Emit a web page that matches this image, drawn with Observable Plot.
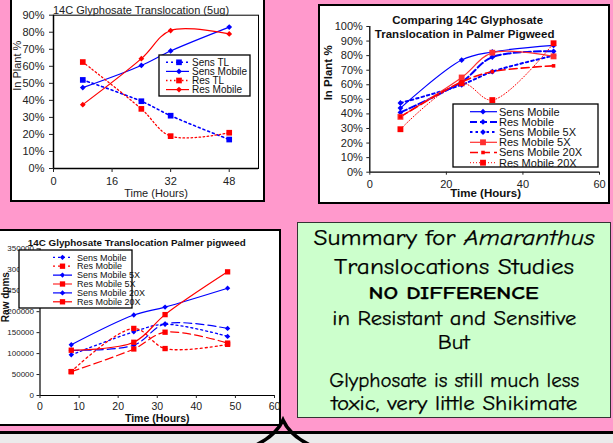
<!DOCTYPE html>
<html><head><meta charset="utf-8">
<script src="https://cdn.jsdelivr.net/npm/d3@7"></script>
<script src="https://cdn.jsdelivr.net/npm/@observablehq/plot@0.6"></script>
<style>
html,body{margin:0;padding:0;}
body{width:613px;height:443px;overflow:hidden;background:#FF99CC;position:relative;font-family:"Liberation Sans",Arial,sans-serif;}
.panel{position:absolute;background:#fff;border:2px solid #000;box-sizing:border-box;}
.chart{position:absolute;}
#summary{position:absolute;left:297px;top:222px;width:314px;height:196px;background:#CCFFCC;border:1.5px solid #333;box-sizing:border-box;}
.sl{position:absolute;left:0;width:100%;text-align:center;line-height:1;font-family:"Comic Sans MS","Comic Neue","DejaVu Sans",sans-serif;color:#000;white-space:nowrap;-webkit-text-stroke:0.25px #000;}
.sl span{display:inline-block;transform-origin:center center;}
#bottom{position:absolute;left:0;top:431px;width:613px;height:12px;background:#EBEBEB;border-top:3px solid #000;box-sizing:border-box;}
#brace{position:absolute;left:0;top:0;}
</style>
</head><body>
<div class="panel" style="left:10px;top:-2px;width:255px;height:204px;"></div>
<div class="panel" style="left:318px;top:4px;width:292px;height:200px;"></div>
<div class="panel" style="left:-2px;top:229px;width:283px;height:197px;"></div>
<div id="c1" class="chart" style="left:12px;top:0px;"></div>
<div id="c2" class="chart" style="left:320px;top:6px;"></div>
<div id="c3" class="chart" style="left:0px;top:231px;"></div>
<div id="summary">
  <div class="sl" style="top:16px;font-size:21.5px;" data-w="281"><span>Summary for <i>Amaranthus</i></span></div>
  <div class="sl" style="top:45px;font-size:21.5px;" data-w="240"><span>Translocations Studies</span></div>
  <div class="sl" style="top:70px;font-size:19px;font-weight:bold;" data-w="170"><span>NO DIFFERENCE</span></div>
  <div class="sl" style="top:96px;font-size:19.5px;" data-w="244"><span>in Resistant and Sensitive</span></div>
  <div class="sl" style="top:120px;font-size:19.5px;" data-w="32"><span>But</span></div>
  <div class="sl" style="top:158px;font-size:20px;" data-w="250"><span>Glyphosate is still much less</span></div>
  <div class="sl" style="top:181px;font-size:20px;" data-w="246"><span>toxic, very little Shikimate</span></div>
</div>
<div id="bottom"></div>
<svg id="brace" width="613" height="443"><path d="M 254 446 Q 276 436 283 420 Q 290 436 312 446" fill="none" stroke="#000" stroke-width="3.5"/></svg>
<script>
// ---------- DATA ----------
const hours = [8, 24, 32, 48];

// Chart 1: 14C Glyphosate Translocation (5ug), In Plant %
const c1Names = ["Sens TL", "Sens Mobile", "Res TL", "Res Mobile"];
const c1SensTL = [52, 39.5, 31, 17];
const c1SensMobile = [47.5, 60.5, 69, 83];
const c1ResTL = [62.5, 35, 19, 21];
const c1ResMobile = [37.5, 64.5, 81, 79];
const c1XTicks = [0, 16, 32, 48];
const c1YTicks = [0, 10, 20, 30, 40, 50, 60, 70, 80, 90];

// Chart 2: Comparing 14C Glyphosate Translocation in Palmer Pigweed, In Plant %
const c2Names = ["Sens Mobile", "Res Mobile", "Sens Mobile 5X", "Res Mobile 5X", "Sens Mobile 20X", "Res Mobile 20X"];
const c2SensMobile = [44, 77, 82.5, 87];
const c2ResMobile = [41, 62, 79, 83];
const c2SensMobile5X = [47.5, 60, 69, 80];
const c2ResMobile5X = [38, 65, 82, 79.5];
const c2SensMobile20X = [38, 62, 69, 73];
const c2ResMobile20X = [29.5, 61, 49.5, 88.5];
const c2XTicks = [0, 20, 40, 60];
const c2YTicks = [0, 10, 20, 30, 40, 50, 60, 70, 80, 90, 100];

// Chart 3: 14C Glyphosate Translocation Palmer pigweed, Raw dpms
const c3Names = ["Sens Mobile", "Res Mobile", "Sens Mobile 5X", "Res Mobile 5X", "Sens Mobile 20X", "Res Mobile 20X"];
const c3SensMobile = [97000, 152000, 170000, 141000];
const c3ResMobile = [57000, 160000, 112000, 122000];
const c3SensMobile5X = [108000, 120000, 171000, 160000];
const c3ResMobile5X = [57000, 111000, 151000, 125000];
const c3SensMobile20X = [121000, 192000, 211000, 256000];
const c3ResMobile20X = [108000, 127000, 193000, 295000];
const c3XTicks = [0, 10, 20, 30, 40, 50, 60];
const c3YTicks = [0, 50000, 100000, 150000, 200000, 250000, 300000, 350000];

// ---------- STYLES ----------
const BLUE = "#0000FF", RED = "#FF0000";
const FONT = "Liberation Sans, Arial, sans-serif";
const c1Styles = [
  {color: BLUE, width: 1.6, dash: "2,3", symbol: "square", r: 3.2},
  {color: BLUE, width: 1.2, dash: null, symbol: "diamond2", r: 2.6},
  {color: RED, width: 1.3, dash: "1.5,2.5", symbol: "square", r: 3.2},
  {color: RED, width: 1.2, dash: null, symbol: "diamond2", r: 2.6}
];
const c2Styles = [
  {color: BLUE, width: 1.2, dash: null, symbol: "diamond2", r: 2.6},
  {color: BLUE, width: 2, dash: "7,3", symbol: "diamond2", r: 2.6},
  {color: BLUE, width: 2, dash: "2.5,3", symbol: "diamond2", r: 2.6},
  {color: "#FF3030", width: 1.2, dash: null, symbol: "square", r: 3.3},
  {color: RED, width: 1.6, dash: "8,4", symbol: "square", r: 2},
  {color: RED, width: 1, dash: "1,2", symbol: "square", r: 3.3}
];
const c3Styles = [
  {color: BLUE, width: 1.3, dash: "2,3", symbol: "diamond2", r: 2.4},
  {color: RED, width: 1.3, dash: "2,3", symbol: "square", r: 3},
  {color: BLUE, width: 1.2, dash: "8,4", symbol: "diamond2", r: 2.4},
  {color: RED, width: 1.2, dash: "8,4", symbol: "square", r: 3},
  {color: BLUE, width: 1.2, dash: null, symbol: "diamond2", r: 2.4},
  {color: RED, width: 1.2, dash: null, symbol: "square", r: 3}
];

function rows(names, series) {
  return names.flatMap((name, i) => hours.map((h, j) => ({series: name, hours: h, value: series[i][j]})));
}
function seriesMarks(data, names, styles) {
  const lines = names.map((n, i) => Plot.line(data.filter(d => d.series === n), {
    x: "hours", y: "value", stroke: styles[i].color, strokeWidth: styles[i].width,
    strokeDasharray: styles[i].dash || undefined, curve: "catmull-rom"}));
  const dots = names.map((n, i) => Plot.dot(data.filter(d => d.series === n), {
    x: "hours", y: "value", symbol: styles[i].symbol, r: styles[i].r, fill: styles[i].color, stroke: "none"}));
  return [...lines, ...dots];
}
const symMap = {square: d3.symbolSquare, diamond2: d3.symbolDiamond2};
function drawLegend(svgNode, cfg) {
  const g = d3.select(svgNode).append("g").attr("text-anchor", "start");
  g.append("rect").attr("x", cfg.x).attr("y", cfg.y).attr("width", cfg.w).attr("height", cfg.h)
    .attr("fill", "#fff").attr("stroke", "#000").attr("stroke-width", 1.3);
  cfg.names.forEach((n, i) => {
    const s = cfg.styles[i];
    const y = cfg.row0 + i * cfg.rowH;
    g.append("line").attr("x1", cfg.s1).attr("x2", cfg.s2).attr("y1", y).attr("y2", y)
      .attr("stroke", s.color).attr("stroke-width", s.width).attr("stroke-dasharray", s.dash);
    g.append("path").attr("d", d3.symbol(symMap[s.symbol], Math.PI * s.r * s.r)())
      .attr("transform", `translate(${cfg.mx},${y})`).attr("fill", s.color);
    g.append("text").attr("x", cfg.tx).attr("y", y).attr("dy", "0.36em").attr("text-anchor", "start")
      .attr("font-size", cfg.fs).attr("font-family", FONT).attr("fill", "#111").text(n);
  });
}

// ---------- CHART 1 ----------
const d1 = rows(c1Names, [c1SensTL, c1SensMobile, c1ResTL, c1ResMobile]);
const p1 = Plot.plot({
  width: 251, height: 200, marginLeft: 41, marginRight: 5, marginTop: 14.7, marginBottom: 32,
  style: {fontFamily: FONT, color: "#222", background: "transparent", overflow: "visible"},
  x: {domain: [0, 56]}, y: {domain: [0, 90]},
  marks: [
    Plot.frame({stroke: "#000", strokeWidth: 1}),
    Plot.ruleX([0], {stroke: "#000", strokeWidth: 1.5}),
    Plot.ruleY([0], {stroke: "#000", strokeWidth: 1.5}),
    Plot.axisY({ticks: c1YTicks, tickFormat: d => d + "%", tickSize: 4, tickPadding: 5, fontSize: 11, label: null}),
    Plot.axisX({ticks: c1XTicks, tickFormat: d => d, tickSize: 4, tickPadding: 5, fontSize: 11, label: null}),
    ...seriesMarks(d1, c1Names, c1Styles),
    Plot.text(["14C Glyphosate Translocation (5ug)"], {frameAnchor: "top", dx: -15, dy: -4.5, fontSize: 11, lineAnchor: "middle", fill: "#222"}),
    Plot.text(["In Plant %"], {frameAnchor: "left", rotate: -90, dx: -36, dy: -1, fontSize: 11, fill: "#222"}),
    Plot.text(["Time (Hours)"], {frameAnchor: "bottom", dx: 0, dy: 25, fontSize: 11, lineAnchor: "middle", fill: "#222"})
  ]
});
document.getElementById("c1").appendChild(p1);
drawLegend(p1, {x: 147, y: 55, w: 91, h: 41, names: c1Names, styles: c1Styles,
  row0: 62.3, rowH: 9.1, s1: 154, s2: 177, mx: 167, tx: 180, fs: 10});

// ---------- CHART 2 ----------
const d2 = rows(c2Names, [c2SensMobile, c2ResMobile, c2SensMobile5X, c2ResMobile5X, c2SensMobile20X, c2ResMobile20X]);
const p2 = Plot.plot({
  width: 288, height: 196, marginLeft: 49.3, marginRight: 9, marginTop: 20, marginBottom: 30.3,
  style: {fontFamily: FONT, color: "#222", background: "transparent", overflow: "visible"},
  x: {domain: [0, 60]}, y: {domain: [0, 100]},
  marks: [
    Plot.ruleX([0], {stroke: "#000", strokeWidth: 1.3}),
    Plot.ruleY([0], {stroke: "#000", strokeWidth: 1.3}),
    Plot.axisY({ticks: c2YTicks, tickFormat: d => d + "%", tickSize: 3, tickPadding: 4, fontSize: 11, label: null}),
    Plot.axisX({ticks: c2XTicks, tickFormat: d => d, tickSize: 3, tickPadding: 5, fontSize: 11, label: null}),
    ...seriesMarks(d2, c2Names, c2Styles),
    Plot.text(["Comparing 14C Glyphosate"], {frameAnchor: "top", dx: -17, dy: -6, fontSize: 11.5, fontWeight: "bold", lineAnchor: "middle", fill: "#111"}),
    Plot.text(["Translocation in Palmer Pigweed"], {frameAnchor: "top", dx: -20, dy: 8, fontSize: 11.5, fontWeight: "bold", lineAnchor: "middle", fill: "#111"}),
    Plot.text(["In Plant %"], {frameAnchor: "left", rotate: -90, dx: -41, dy: 1, fontSize: 11.5, fontWeight: "bold", fill: "#111"}),
    Plot.text(["Time (Hours)"], {frameAnchor: "bottom", dx: 1, dy: 21.5, fontSize: 11.5, fontWeight: "bold", lineAnchor: "middle", fill: "#111"})
  ]
});
document.getElementById("c2").appendChild(p2);
drawLegend(p2, {x: 133, y: 98, w: 145, h: 63, names: c2Names, styles: c2Styles,
  row0: 105.7, rowH: 10.2, s1: 150, s2: 177, mx: 163, tx: 179, fs: 11});

// ---------- CHART 3 ----------
const d3data = rows(c3Names, [c3SensMobile, c3ResMobile, c3SensMobile5X, c3ResMobile5X, c3SensMobile20X, c3ResMobile20X]);
const p3 = Plot.plot({
  width: 279, height: 193, marginLeft: 39.5, marginRight: 5, marginTop: 17.3, marginBottom: 29,
  style: {fontFamily: FONT, color: "#222", background: "transparent", overflow: "visible"},
  x: {domain: [0, 60]}, y: {domain: [0, 350000]},
  marks: [
    Plot.ruleX([0], {stroke: "#000", strokeWidth: 1.2}),
    Plot.ruleY([0], {stroke: "#000", strokeWidth: 1.2}),
    Plot.axisY({ticks: c3YTicks, tickFormat: d3.format("d"), tickSize: 3, tickPadding: 3, fontSize: 8, label: null}),
    Plot.axisX({ticks: c3XTicks, tickFormat: d => d, tickSize: 3, tickPadding: 4, fontSize: 10.5, label: null}),
    ...seriesMarks(d3data, c3Names, c3Styles),
    Plot.text(["14C Glyphosate Translocation Palmer pigweed"], {frameAnchor: "top", dx: -20.5, dy: -6.3, fontSize: 9.8, fontWeight: "bold", lineAnchor: "middle", fill: "#111"}),
    Plot.text(["Raw dpms"], {frameAnchor: "left", rotate: -90, dx: -34.5, dy: 0, fontSize: 10, fontWeight: "bold", fill: "#111"}),
    Plot.text(["Time (Hours)"], {frameAnchor: "bottom", dx: 0, dy: 23, fontSize: 10.5, fontWeight: "bold", lineAnchor: "middle", fill: "#111"})
  ]
});
document.getElementById("c3").appendChild(p3);
drawLegend(p3, {x: 19, y: 19, w: 113, h: 58, names: c3Names, styles: c3Styles,
  row0: 26.3, rowH: 8.9, s1: 53, s2: 72, mx: 62.5, tx: 77, fs: 9});

// ---------- summary line fitting ----------
document.querySelectorAll(".sl").forEach(el => {
  const span = el.querySelector("span");
  const w = span.getBoundingClientRect().width;
  const target = +el.dataset.w;
  span.style.transform = `translateY(-50%) scaleX(${target / w})`;
});
</script>
</body></html>
